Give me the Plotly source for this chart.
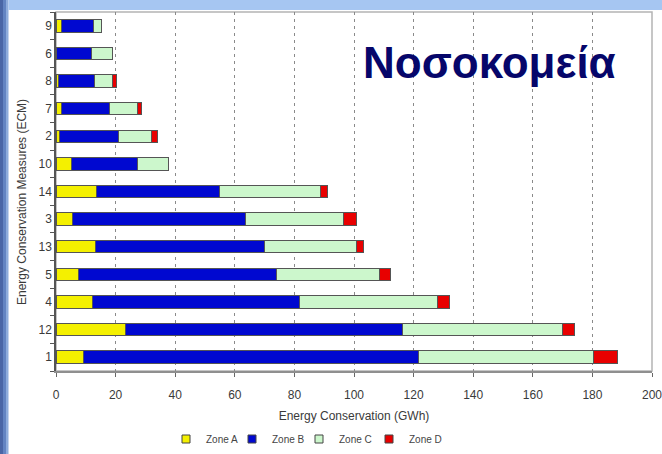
import plotly.graph_objects as go

# Energy conservation measures (ECM), listed bottom to top
measures = ["1", "12", "4", "5", "13", "3", "14", "10", "2", "7", "8", "6", "9"]

# Energy conservation per climatic zone (GWh)
zone_a = [9.2, 23.2, 12.2, 7.5, 13.1, 5.4, 13.7, 5.3, 1.3, 1.7, 1.0, 0.0, 2.0]
zone_b = [112.4, 93.0, 69.4, 66.4, 57.0, 58.2, 41.3, 21.9, 19.7, 16.3, 11.8, 12.0, 10.7]
zone_c = [58.9, 53.8, 46.4, 34.6, 30.8, 33.0, 33.6, 10.4, 11.2, 9.2, 6.2, 6.8, 2.7]
zone_d = [8.0, 4.0, 4.2, 3.8, 2.2, 4.3, 2.4, 0.0, 2.0, 1.6, 1.3, 0.0, 0.0]

x_ticks = list(range(0, 201, 20))

W, H = 662, 454
L, R, T, B = 56, 10, 12, 83
PW, PH = W - L - R, H - T - B


def px(x):
    return (x - L) / PW


def py(y):
    return (H - B - y) / PH


series = [
    ("Zone A", zone_a, "#f4f000"),
    ("Zone B", zone_b, "#0008d0"),
    ("Zone C", zone_c, "#ccf7cc"),
    ("Zone D", zone_d, "#e80000"),
]
legend_ids = ["legend", "legend2", "legend3", "legend4"]
legend_x = [166, 232, 299, 369]

fig = go.Figure()
for name, vals, color in series:
    fig.add_trace(go.Bar(
        name=name, y=measures, x=vals, orientation="h", showlegend=False,
        legendgroup=name,
        marker=dict(color=color, line=dict(color="#555555", width=1)),
    ))
# small square legend keys, one legend box per zone
for (name, vals, color), lid in zip(series, legend_ids):
    fig.add_trace(go.Scatter(
        name=name, x=[None], y=[None], mode="markers", legendgroup=name, legend=lid,
        marker=dict(symbol="square", size=8, color=color, line=dict(color="#444444", width=1)),
    ))

shapes = [
    # window backdrop: dark blue left edge and light blue top strip
    dict(type="rect", xref="paper", yref="paper", x0=px(0), x1=px(3), y0=py(H), y1=py(0),
         fillcolor="#4a66a6", line_width=0, layer="below"),
    dict(type="rect", xref="paper", yref="paper", x0=px(3), x1=px(6), y0=py(H), y1=py(0),
         fillcolor="#6384c2", line_width=0, layer="below"),
    dict(type="rect", xref="paper", yref="paper", x0=px(6), x1=px(8.5), y0=py(H), y1=py(0),
         fillcolor="#8eacdc", line_width=0, layer="below"),
    dict(type="rect", xref="paper", yref="paper", x0=px(8.5), x1=px(W), y0=py(10), y1=py(0),
         fillcolor="#a6c6f2", line_width=0, layer="below"),
    # light frame around the plotting area
    dict(type="rect", xref="paper", yref="paper", x0=0, x1=1, y0=0, y1=1,
         line=dict(color="#b4b4b4", width=1.5), layer="below"),
]

legend_style = dict(
    orientation="h", xanchor="left", y=py(439), yanchor="middle",
    font=dict(size=10, color="#444444"), itemwidth=30,
    bgcolor="rgba(0,0,0,0)", borderwidth=0,
)
legends = {lid: dict(legend_style, x=px(lx)) for lid, lx in zip(legend_ids, legend_x)}

fig.update_layout(
    width=W, height=H,
    margin=dict(l=L, r=R, t=T, b=B, autoexpand=False),
    paper_bgcolor="#ffffff",
    plot_bgcolor="#ffffff",
    barmode="stack",
    bargap=0.55,
    font=dict(family="Liberation Sans, Arial, sans-serif", color="#333333", size=12),
    shapes=shapes,
    xaxis=dict(
        range=[0, 200], tickvals=x_ticks, ticktext=[str(v) for v in x_ticks],
        showgrid=True, gridcolor="#8a8a8a", gridwidth=1, griddash="3px,4px",
        showline=True, linecolor="#8f8f8f", linewidth=2,
        ticks="outside", ticklen=4, tickcolor="#666666",
        ticklabelstandoff=8, ticklabeloverflow="allow", automargin=False,
        zeroline=False, tickfont=dict(size=12, color="#3a3a3a"),
        title=dict(text="Energy Conservation (GWh)", font=dict(size=12, color="#3a3a3a"), standoff=10),
    ),
    yaxis=dict(
        categoryorder="array", categoryarray=measures, automargin=False,
        showline=True, linecolor="#555555", linewidth=1.5,
        ticks="outside", ticklen=4, tickcolor="#555555", tickson="boundaries",
        showgrid=False, tickfont=dict(size=12, color="#3a3a3a"),
    ),
    annotations=[
        dict(text="Energy Conservation Measures (ECM)", textangle=-90,
             xref="paper", yref="paper", x=px(22), y=py(202),
             xanchor="center", yanchor="middle",
             showarrow=False, font=dict(size=12, color="#3a3a3a")),
        dict(text="<b>Νοσοκομεία</b>", xref="paper", yref="paper",
             x=px(489), y=py(62), xanchor="center", yanchor="middle",
             showarrow=False, font=dict(size=44, color="#06066a",
                                        family="Liberation Sans Narrow, Liberation Sans, Arial, sans-serif")),
    ],
    **legends,
)

fig.write_html("out.html")
